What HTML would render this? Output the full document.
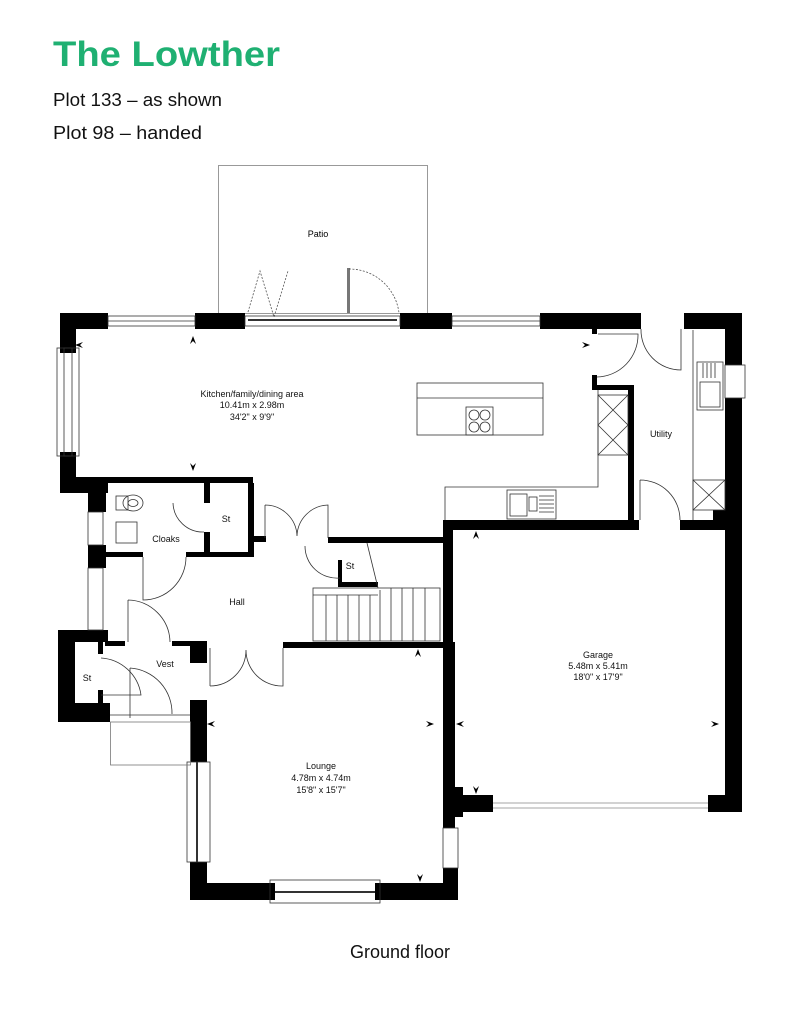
<!DOCTYPE html>
<html><head><meta charset="utf-8"><style>
html,body{margin:0;padding:0;background:#fff;}
svg{display:block;font-family:"Liberation Sans",sans-serif;}
</style></head><body>
<svg width="800" height="1036" viewBox="0 0 800 1036" xmlns="http://www.w3.org/2000/svg">
<rect width="800" height="1036" fill="#fff"/>
<text x="53" y="66" font-size="35" font-weight="bold" fill="#1fb072" textLength="227" lengthAdjust="spacingAndGlyphs">The Lowther</text>
<text x="53" y="106" font-size="18" fill="#111" textLength="169" lengthAdjust="spacingAndGlyphs">Plot 133 – as shown</text>
<text x="53" y="139" font-size="18" fill="#111" textLength="149" lengthAdjust="spacingAndGlyphs">Plot 98 – handed</text>

<!-- patio -->
<rect x="218.5" y="165.5" width="209" height="148" fill="none" stroke="#999" stroke-width="1"/>
<text x="318" y="237" font-size="9" text-anchor="middle">Patio</text>
<polyline points="248,312 260,271 274,317 288,271" fill="none" stroke="#555" stroke-width="0.8" stroke-dasharray="2,1.5"/>
<rect x="347" y="268" width="3" height="45" fill="#777"/>
<path d="M349,269 A50,50 0 0 1 399,313" fill="none" stroke="#555" stroke-width="0.8" stroke-dasharray="2,1.5"/>

<g fill="#000">
<rect x="60" y="313" width="48" height="16"/>
<rect x="195" y="313" width="50" height="16"/>
<rect x="400" y="313" width="52" height="16"/>
<rect x="540" y="313" width="101" height="16"/>
<rect x="684" y="313" width="58" height="16"/>
<rect x="60" y="313" width="16" height="40"/>
<rect x="60" y="452" width="16" height="41"/>
<rect x="60" y="477" width="48" height="16"/>
<rect x="108" y="477" width="145" height="6"/>
<rect x="88" y="490" width="18" height="22"/>
<rect x="88" y="545" width="18" height="23"/>
<rect x="204" y="483" width="6" height="20"/>
<rect x="204" y="532" width="6" height="24"/>
<rect x="248" y="483" width="6" height="73"/>
<rect x="105" y="552" width="38" height="5"/>
<rect x="186" y="552" width="68" height="5"/>
<rect x="253" y="536" width="13" height="6"/>
<rect x="328" y="537" width="115" height="6"/>
<rect x="338" y="582" width="40" height="5"/>
<rect x="338" y="560" width="4" height="25"/>
<rect x="443" y="520" width="10" height="275"/>
<rect x="443" y="520" width="196" height="10"/>
<rect x="680" y="520" width="62" height="10"/>
<rect x="628" y="385" width="6" height="140"/>
<rect x="592" y="385" width="42" height="5"/>
<rect x="592" y="375" width="5" height="12"/>
<rect x="592" y="329" width="5" height="5"/>
<rect x="725" y="313" width="17" height="52"/>
<rect x="725" y="398" width="17" height="414"/>
<rect x="713" y="510" width="12" height="12"/>
<rect x="455" y="795" width="38" height="17"/>
<rect x="708" y="795" width="34" height="17"/>
<rect x="190" y="643" width="17" height="20"/>
<rect x="190" y="700" width="17" height="62"/>
<rect x="190" y="862" width="17" height="38"/>
<rect x="190" y="883" width="85" height="17"/>
<rect x="375" y="883" width="83" height="17"/>
<rect x="283" y="642" width="160" height="6"/>
<rect x="443" y="642" width="12" height="186"/>
<rect x="443" y="868" width="15" height="32"/>
<rect x="443" y="787" width="20" height="30"/>
<rect x="98" y="630" width="10" height="12"/>
<rect x="105" y="641" width="20" height="5"/>
<rect x="172" y="641" width="35" height="5"/>
<rect x="58" y="630" width="17" height="92"/>
<rect x="58" y="630" width="40" height="12"/>
<rect x="58" y="703" width="52" height="19"/>
<rect x="98" y="642" width="5" height="12"/>
<rect x="98" y="690" width="5" height="15"/>
</g>

<g fill="none" stroke="#333" stroke-width="0.8">
<rect x="108" y="316" width="87" height="10"/>
<line x1="108" y1="321" x2="195" y2="321"/>
<rect x="452" y="316" width="88" height="10"/>
<line x1="452" y1="321" x2="540" y2="321"/>
<rect x="245" y="316" width="155" height="10"/>
<line x1="248" y1="320" x2="397" y2="320" stroke-width="2"/>
<rect x="57" y="348" width="15" height="108"/>
<rect x="64" y="348" width="15" height="108"/>
<rect x="88" y="512" width="15" height="33"/>
<rect x="88" y="568" width="15" height="62"/>
<rect x="725" y="365" width="20" height="33"/>
<rect x="187" y="762" width="23" height="100"/>
<line x1="197" y1="762" x2="197" y2="862" stroke-width="2"/>
<rect x="443" y="828" width="15" height="40"/>
<rect x="270" y="880" width="110" height="23"/>
<line x1="275" y1="892" x2="375" y2="892" stroke-width="2"/>
<line x1="493" y1="803" x2="708" y2="803" stroke="#888"/>
<line x1="493" y1="808" x2="708" y2="808" stroke="#888"/>
<path d="M641,329 A40,40 0 0 0 681,370 L681,329"/>
<path d="M598,334 L638,334 A42,42 0 0 1 597,377"/>
<path d="M640,480 A40,40 0 0 1 680,520 M640,480 L640,520"/>
<path d="M173,503 A30,30 0 0 0 204,532"/>
<path d="M143,557 L143,600 A43,43 0 0 0 186,557"/>
<path d="M265,505 L265,538 M265,505 A32,32 0 0 1 297,536 A32,32 0 0 1 328,505 L328,538"/>
<path d="M305,546 A32,32 0 0 0 340,578"/>
<path d="M128,600 L128,642 M128,600 A43,43 0 0 1 170,642"/>
<path d="M210,686 L210,648 M210,686 A36,36 0 0 0 246,650 A36,36 0 0 0 283,686 L283,648"/>
<path d="M101,658 A43,43 0 0 1 141,695 L101,695"/>
<path d="M130,668 L130,718 M130,668 A45,45 0 0 1 172,714"/>
<line x1="110" y1="715" x2="190" y2="715"/>
<rect x="110.5" y="722" width="80" height="43" stroke="#777"/>
<rect x="313" y="588" width="127" height="53"/>
<line x1="313" y1="595" x2="378" y2="595"/>
<path d="M326,595 V641 M337,595 V641 M348,595 V641 M359,595 V641 M370,595 V641 M380,590 V641 M391,588 V641 M402,588 V641 M413,588 V641 M425,588 V641"/>
<line x1="367" y1="543" x2="378" y2="588"/>
<rect x="417" y="383" width="126" height="52"/>
<line x1="417" y1="398" x2="543" y2="398"/>
<rect x="466" y="407" width="27" height="28"/>
<circle cx="474" cy="415" r="5"/><circle cx="485" cy="415" r="5"/>
<circle cx="474" cy="427" r="5"/><circle cx="485" cy="427" r="5"/>
<polyline points="445,520 445,487 598,487 598,390"/>
<rect x="598" y="395" width="30" height="60"/>
<path d="M598,395 L628,425 M628,395 L598,425 M598,425 L628,455 M628,425 L598,455"/>
<rect x="507" y="490" width="49" height="29"/>
<rect x="510" y="494" width="17" height="22"/>
<rect x="529" y="497" width="8" height="14"/>
<path d="M539,496 H554 M539,500 H554 M539,504 H554 M539,508 H554 M539,512 H554"/>
<line x1="693" y1="330" x2="693" y2="520"/>
<rect x="697" y="362" width="26" height="48"/>
<rect x="700" y="382" width="20" height="25"/>
<path d="M703,363 V378 M707,363 V378 M711,363 V378 M715,363 V378"/>
<rect x="693" y="480" width="32" height="30"/>
<path d="M693,480 L725,510 M725,480 L693,510"/>
<rect x="116" y="496" width="12" height="14"/>
<ellipse cx="133" cy="503" rx="10" ry="8"/>
<ellipse cx="133" cy="503" rx="5" ry="3.5"/>
<rect x="116" y="522" width="21" height="21"/>
</g>

<g fill="#000">
<path d="M75,345 l8,-3 l-3,3 l3,3z"/>
<path d="M193,336 l-3,8 l3,-3 l3,3z"/>
<path d="M193,471 l-3,-8 l3,3 l3,-3z"/>
<path d="M590,345 l-8,-3 l3,3 l-3,3z"/>
<path d="M476,531 l-3,8 l3,-3 l3,3z"/>
<path d="M418,649 l-3,8 l3,-3 l3,3z"/>
<path d="M434,724 l-8,-3 l3,3 l-3,3z"/>
<path d="M456,724 l8,-3 l-3,3 l3,3z"/>
<path d="M719,724 l-8,-3 l3,3 l-3,3z"/>
<path d="M207,724 l8,-3 l-3,3 l3,3z"/>
<path d="M476,794 l-3,-8 l3,3 l3,-3z"/>
<path d="M420,882 l-3,-8 l3,3 l3,-3z"/>
</g>

<g font-size="9" fill="#111" text-anchor="middle">
<text x="252" y="397">Kitchen/family/dining area</text>
<text x="252" y="408">10.41m x 2.98m</text>
<text x="252" y="420">34'2" x 9'9"</text>
<text x="661" y="437">Utility</text>
<text x="226" y="522">St</text>
<text x="166" y="542">Cloaks</text>
<text x="350" y="569">St</text>
<text x="237" y="605">Hall</text>
<text x="165" y="667">Vest</text>
<text x="87" y="681">St</text>
<text x="598" y="658">Garage</text>
<text x="598" y="669">5.48m x 5.41m</text>
<text x="598" y="680">18'0" x 17'9"</text>
<text x="321" y="769">Lounge</text>
<text x="321" y="781">4.78m x 4.74m</text>
<text x="321" y="793">15'8" x 15'7"</text>
</g>
<text x="400" y="958" font-size="18" fill="#111" text-anchor="middle">Ground floor</text>
</svg>
</body></html>
